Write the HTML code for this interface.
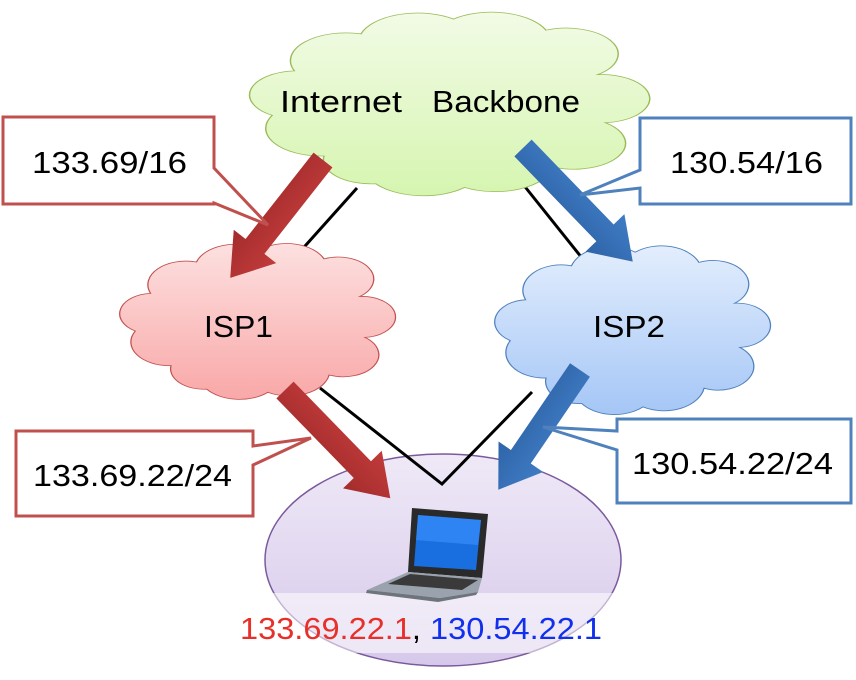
<!DOCTYPE html>
<html><head><meta charset="utf-8"><style>
html,body{margin:0;padding:0;background:#fff;}
svg{display:block;}
text{font-family:"Liberation Sans","Noto Sans CJK JP",sans-serif;}
</style></head><body>
<svg width="856" height="680" viewBox="0 0 856 680" xmlns="http://www.w3.org/2000/svg">
<defs>
<linearGradient id="gg" x1="0" y1="0" x2="0" y2="1"><stop offset="0" stop-color="#f2fbe6"/><stop offset="1" stop-color="#d6f5b0"/></linearGradient>
<linearGradient id="rg" x1="0" y1="0" x2="0" y2="1"><stop offset="0" stop-color="#fde0e0"/><stop offset="1" stop-color="#f9a8a8"/></linearGradient>
<linearGradient id="bg" x1="0" y1="0" x2="0" y2="1"><stop offset="0" stop-color="#e3eefd"/><stop offset="1" stop-color="#a5c6f6"/></linearGradient>
<linearGradient id="pg" x1="0" y1="0" x2="0" y2="1"><stop offset="0" stop-color="#efe9f7"/><stop offset="1" stop-color="#d6c8ea"/></linearGradient>
<linearGradient id="ra" x1="0" y1="0" x2="0" y2="1"><stop offset="0" stop-color="#c23b3b"/><stop offset="1" stop-color="#a42c2c"/></linearGradient>
<linearGradient id="ba" x1="0" y1="0" x2="0" y2="1"><stop offset="0" stop-color="#3f7cc4"/><stop offset="1" stop-color="#2f64a8"/></linearGradient>
<path id="cloud" d="M20,80 A15,15 0 0 1 6,58 A13,13 0 0 1 12,34 A15,15 0 0 1 30,14 A16,16 0 0 1 55,6 A16,16 0 0 1 80,12 A14,14 0 0 1 94,36 A12,12 0 0 1 96,62 A14,14 0 0 1 82,86 A16,16 0 0 1 58,97 A16,16 0 0 1 34,95 A13,13 0 0 1 20,80 Z"/>
</defs>

<ellipse cx="443" cy="560" rx="178" ry="106" fill="url(#pg)" stroke="#7a5a9c" stroke-width="1.5"/>
<rect x="268" y="593" width="350" height="60" fill="#ffffff" opacity="0.55"/>

<polyline points="357,188 297,255" fill="none" stroke="#000" stroke-width="3"/>
<polyline points="320,388 442,484 532,392" fill="none" stroke="#000" stroke-width="3"/>
<polyline points="518,178 582,258" fill="none" stroke="#000" stroke-width="3"/>

<use href="#cloud" transform="translate(250,8) scale(3.7,1.85)" fill="url(#gg)" stroke="#9bbb59" stroke-width="0.4"/>
<use href="#cloud" transform="translate(120,240) scale(2.55,1.57)" fill="url(#rg)" stroke="#c0504d" stroke-width="0.5"/>
<use href="#cloud" transform="translate(495,242) scale(2.55,1.7)" fill="url(#bg)" stroke="#4f81bd" stroke-width="0.5"/>

<text y="112" font-size="31"><tspan x="280" textLength="122" lengthAdjust="spacingAndGlyphs">Internet</tspan><tspan x="432" textLength="148" lengthAdjust="spacingAndGlyphs">Backbone</tspan></text>
<text x="204" y="337" font-size="31" textLength="69" lengthAdjust="spacingAndGlyphs">ISP1</text>
<text x="593" y="337" font-size="31" textLength="72" lengthAdjust="spacingAndGlyphs">ISP2</text>

<g>
<path d="M412,508 L488,514 L482,578 L408,572 Z" fill="#2a2a2a"/>
<path d="M418,515 L481,520 L476,570 L414,566 Z" fill="#1a6fe0"/>
<path d="M418,515 L481,520 L478,545 L416,540 Z" fill="#3e93ff" opacity="0.6"/>
<path d="M408,572 L482,578 L478,592 L440,598 L367,590 Z" fill="#9aa3ad"/>
<path d="M410,574 L478,580 L462,590 L388,584 Z" fill="#3a3a3a"/>
<path d="M367,590 L440,598 L478,592 L476,595 L438,602 L366,593 Z" fill="#6d747c"/>
</g>

<text x="240" y="639" font-size="31" textLength="362" lengthAdjust="spacingAndGlyphs"><tspan fill="#e8302a">133.69.22.1</tspan><tspan fill="#000">, </tspan><tspan fill="#1030ee">130.54.22.1</tspan></text>

<g transform="translate(323,160) rotate(128.2)"><polygon points="0,-12 110,-12 110,-27 150,0 110,27 110,12 0,12" fill="url(#ra)"/></g>
<g transform="translate(523,148) rotate(46)"><polygon points="0,-12 118,-12 118,-27 158,0 118,27 118,12 0,12" fill="url(#ba)"/></g>
<g transform="translate(285,390) rotate(45.8)"><polygon points="0,-12 111,-12 111,-27 151,0 111,27 111,12 0,12" fill="url(#ra)"/></g>
<g transform="translate(580,370) rotate(124.3)"><polygon points="0,-12 105,-12 105,-27 145,0 105,27 105,12 0,12" fill="url(#ba)"/></g>

<path d="M3,117 L214,117 L214,168 L268,225 L214,203 L214,204 L3,204 Z" fill="#fff" stroke="#c0504d" stroke-width="3"/>
<text x="32" y="173" font-size="31" textLength="155" lengthAdjust="spacingAndGlyphs">133.69/16</text>

<path d="M640,118 L851,118 L851,204 L640,204 L640,188 L580,195 L640,170 Z" fill="#fff" stroke="#4f81bd" stroke-width="3"/>
<text x="670" y="173" font-size="31" textLength="153" lengthAdjust="spacingAndGlyphs">130.54/16</text>

<path d="M16,431 L253,431 L253,446 L311,438 L253,465 L253,516 L16,516 Z" fill="#fff" stroke="#c0504d" stroke-width="3"/>
<text x="33" y="486" font-size="31" textLength="199" lengthAdjust="spacingAndGlyphs">133.69.22/24</text>

<path d="M617,419 L851,419 L851,503 L617,503 L617,450 L543,427 L617,431 Z" fill="#fff" stroke="#4f81bd" stroke-width="3"/>
<text x="632" y="474" font-size="31" textLength="201" lengthAdjust="spacingAndGlyphs">130.54.22/24</text>
</svg>
</body></html>
